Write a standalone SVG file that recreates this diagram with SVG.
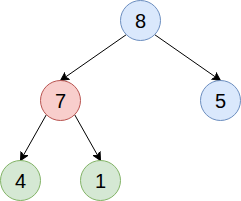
<svg xmlns="http://www.w3.org/2000/svg" width="241" height="201" viewBox="0 0 241 201">
<style>
.blue{fill:#dae8fc;stroke:#6c8ebf;stroke-width:1}
.red{fill:#f8cecc;stroke:#b85450;stroke-width:1}
.green{fill:#d5e8d4;stroke:#82b366;stroke-width:1}
.lbl{font-family:"Liberation Sans",Arial,sans-serif;font-size:20px;fill:#000;text-anchor:middle;dominant-baseline:central}
.edge{stroke:#000;stroke-width:1;fill:none;marker-end:url(#arr)}
</style>
<defs>
<marker id="arr" markerUnits="userSpaceOnUse" markerWidth="10" markerHeight="10" refX="8" refY="4.5" orient="auto" viewBox="0 0 10 10">
<path d="M0,0.5 L8,4.5 L0,8.5 L2,4.5 Z" fill="#000" stroke="#000" stroke-width="1"/>
</marker>
</defs>
<g id="connectors">
<path class="edge" d="M126.4,34.6 L60.5,80.5"/>
<path class="edge" d="M154.6,34.6 L220.5,80.5"/>
<path class="edge" d="M46.4,114.6 L20.5,160.5"/>
<path class="edge" d="M74.6,114.6 L100.5,160.5"/>
</g>
<g id="n8"><circle class="blue" cx="140.5" cy="20.5" r="20"/><text class="lbl" x="140.5" y="20.5">8</text></g>
<g id="n7"><circle class="red" cx="60.5" cy="100.5" r="20"/><text class="lbl" x="60.5" y="100.5">7</text></g>
<g id="n5"><circle class="blue" cx="220.5" cy="100.5" r="20"/><text class="lbl" x="220.5" y="100.5">5</text></g>
<g id="n4"><circle class="green" cx="20.5" cy="180.5" r="20"/><text class="lbl" x="20.5" y="180.5">4</text></g>
<g id="n1"><circle class="green" cx="100.5" cy="180.5" r="20"/><text class="lbl" x="100.5" y="180.5">1</text></g>
</svg>
